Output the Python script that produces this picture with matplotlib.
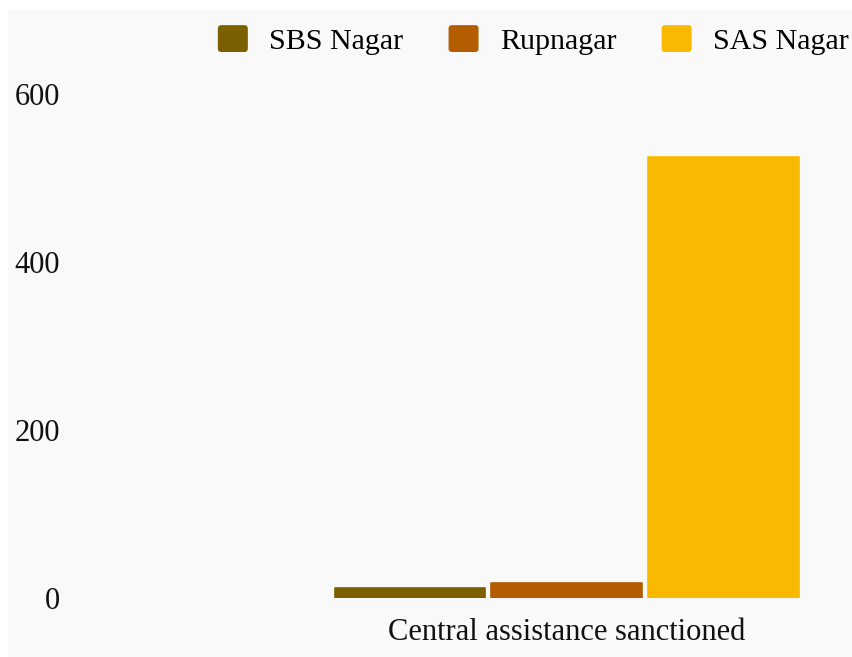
import matplotlib
matplotlib.use("Agg")
import matplotlib.pyplot as plt
from matplotlib.patches import Rectangle, FancyBboxPatch, Patch
from matplotlib.legend_handler import HandlerPatch

categories = ["Central assistance sanctioned"]
series_names = ["SBS Nagar", "Rupnagar", "SAS Nagar"]
series_values = [[12.4], [18.3], [525]]
colors = ["#7B5F00", "#B35C00", "#F9B900"]
y_ticks = [0, 200, 400, 600]

plt.rcParams['font.family'] = ['Liberation Serif', 'DejaVu Serif']

W, H = 853, 657
fig = plt.figure(figsize=(W / 100, H / 100), dpi=100, facecolor="white")
fig.patches.append(Rectangle((8 / W, 0), 1 - 8 / W, 1 - 10 / H, transform=fig.transFigure,
                             facecolor="#f9f9f9", edgecolor="none", zorder=-10))

ax_left, ax_right = 70 / W, 840 / W
ax_bottom = (H - 598) / H
ax_top = 1 - 43.6 / H
ax = fig.add_axes([ax_left, ax_bottom, ax_right - ax_left, ax_top - ax_bottom])
ax.set_facecolor("none")

pitch = 1 / 3
bar_w = 0.32
for i, (name, vals, c) in enumerate(zip(series_names, series_values, colors)):
    xs = [j + (i - 1) * pitch for j in range(len(categories))]
    ax.bar(xs, vals, width=bar_w, color=c, label=name, edgecolor=c, linewidth=1.2,
           joinstyle="round")

ax.set_xlim(-1.055, 0.58)
ax.set_ylim(0, 660)
ax.set_yticks(y_ticks)
ax.set_yticklabels([str(t) for t in y_ticks])
ax.set_xticks(range(len(categories)))
ax.set_xticklabels(categories)
ax.tick_params(axis="both", length=0, labelsize=22, colors="#111111")
ax.tick_params(axis="y", pad=7)
ax.tick_params(axis="x", pad=14.5)
for s in ax.spines.values():
    s.set_visible(False)


class RoundHandler(HandlerPatch):
    def create_artists(self, legend, orig_handle, xdescent, ydescent, width, height, fontsize, trans):
        p = FancyBboxPatch((-xdescent, -ydescent), width, height,
                           boxstyle="round,pad=0,rounding_size=2.5",
                           facecolor=orig_handle.get_facecolor(), edgecolor="none", transform=trans)
        return [p]


handles = [Patch(facecolor=c, label=n) for n, c in zip(series_names, colors)]
fig.legend(handles=handles, loc="center right", bbox_to_anchor=(849 / W, 1 - 40 / H),
           ncol=3, frameon=False, fontsize=21.6, handlelength=1.0, handleheight=1.0,
           handletextpad=0.72, columnspacing=1.5, borderpad=0, borderaxespad=0,
           handler_map={Patch: RoundHandler()})

fig.savefig("out.png", dpi=100, facecolor=fig.get_facecolor())
